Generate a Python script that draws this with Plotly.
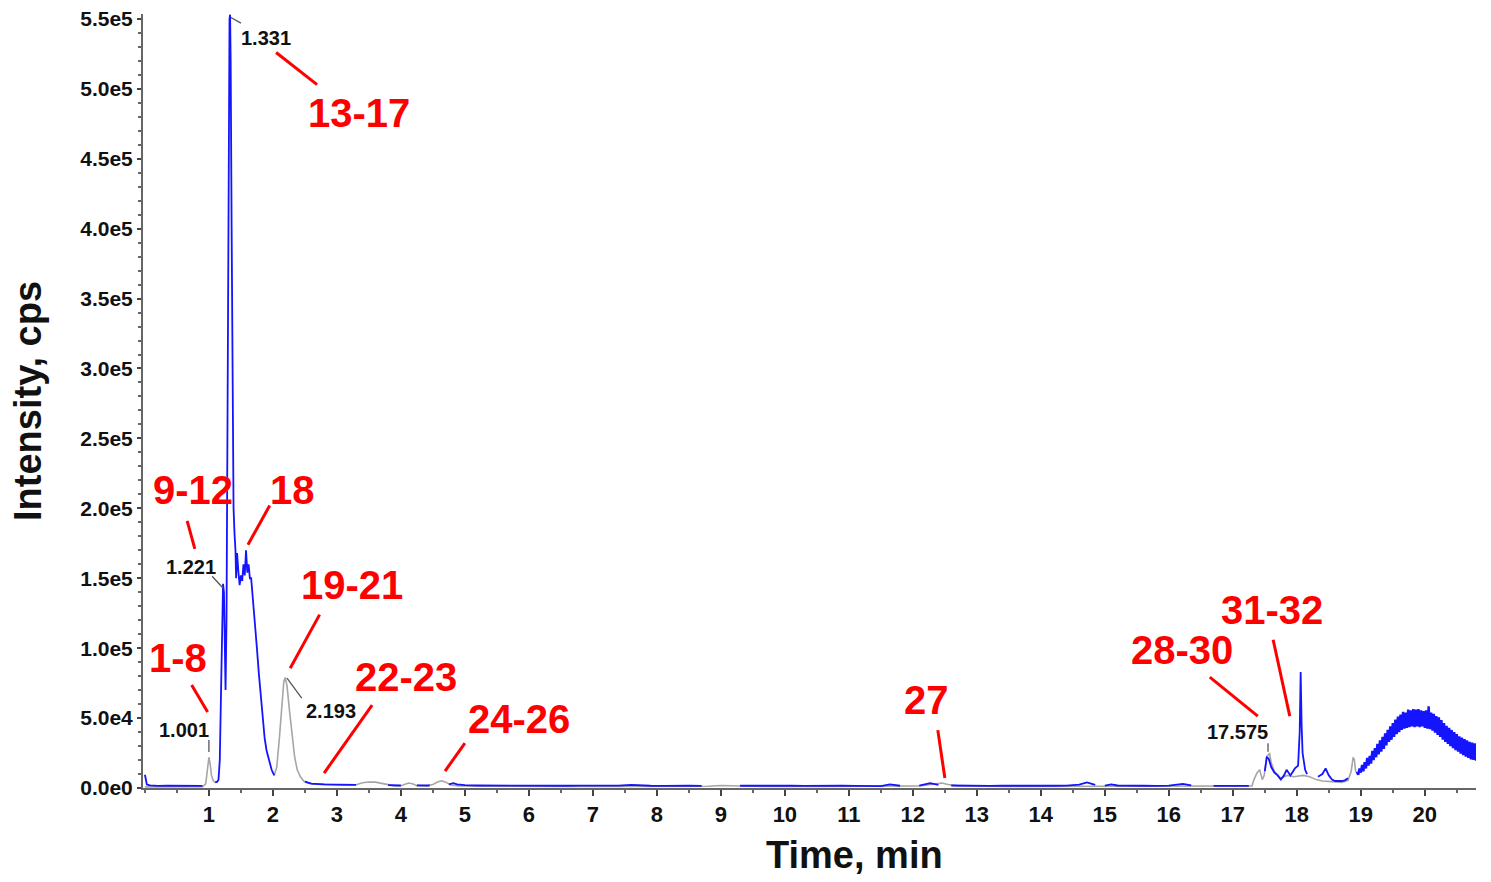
import plotly.graph_objects as go

# ---------------- data ----------------
# blue (main) trace: time (min), intensity (cps); None = gap where grey trace is shown
blue_t = [0.0, 0.015, 0.03, 0.08, 0.2, 0.35, 0.5, 0.65, 0.8, 0.9, None,
          1.1, 1.13, 1.15, 1.17, 1.19, 1.205, 1.221, 1.235, 1.25, 1.26, 1.275, 1.29, 1.31, 1.322, 1.331,
          1.34, 1.355, 1.37, 1.385, 1.4, 1.415, 1.425, 1.44, 1.46, 1.48, 1.5, 1.52, 1.54, 1.56, 1.58,
          1.6, 1.62, 1.64, 1.66, 1.68, 1.7, 1.72, 1.75, 1.78, 1.81, 1.84, 1.87, 1.9, 1.94, 1.98, 2.02, None,
          2.5, 2.6, 2.8, 3.0, 3.2, 3.3, None, 3.8, 3.9, 4.0, None, 4.25, 4.35, 4.45, None,
          4.75, 4.82, 4.88, 5.0, 5.2, 5.4, 5.6, 5.8, 6.0, 6.2, 6.4, 6.6, 6.8, 7.0, 7.2, 7.4, 7.6, 7.7,
          7.9, 8.1, 8.3, 8.5, 8.7, None, 9.3, 9.5, 9.7, 9.9, 10.1, 10.3, 10.5, 10.7, 10.9, 11.1, 11.3,
          11.5, 11.64, 11.8, None, 12.1, 12.27, 12.4, None, 12.6, 12.8, 13.0, 13.2, 13.4, 13.6, 13.8,
          14.0, 14.2, 14.4, 14.6, 14.72, 14.85, None, 15.0, 15.1, 15.2, 15.4, 15.6, 15.8, 16.0, 16.22,
          16.35, None, 16.7, 16.9, 17.1, 17.25, None,
          17.5, 17.53, 17.56, 17.6, 17.65, 17.7, 17.75, 17.8, 17.84, 17.9, 17.97, 18.02, 18.045,
          18.06, 18.075, 18.09, 18.13, 18.16, None, 18.33, 18.4, 18.45, 18.5, 18.55, 18.6, 18.7,
          18.75, 18.8, None]
blue_i = [9500, 6000, 2500, 1800, 1500, 1700, 1500, 1600, 1500, 1500, None,
          4000, 4500, 6000, 20000, 70000, 120000, 146000, 140000, 95000, 70000, 120000, 280000, 480000, 550000, 553000,
          520000, 400000, 280000, 200000, 182000, 170000, 150000, 168000, 155000, 145000, 152000, 148000, 160000, 152000, 170000,
          154000, 160000, 150000, 150000, 140000, 130000, 118000, 100000, 82000, 65000, 48000, 36000, 27000, 19000, 13000, 9000, None,
          4500, 3200, 2600, 2500, 2400, 2300, None, 2100, 1900, 1800, None, 1900, 2000, 1800, None,
          2600, 3400, 2600, 2000, 1800, 1700, 1900, 1700, 1600, 1800, 1700, 1600, 1700, 1600, 1500, 1700, 2300, 2000,
          1600, 1500, 1700, 1600, 1500, None, 1600, 1700, 1900, 1500, 1600, 1500, 1700, 1500, 1600, 1500, 1600,
          1400, 2600, 1600, None, 1700, 3500, 2200, None, 1800, 1600, 1700, 1500, 1600, 1500, 1600,
          1500, 1600, 1700, 2400, 4000, 2200, None, 1700, 2600, 1800, 1500, 1600, 1500, 1700, 3000,
          1800, None, 1500, 1600, 1500, 1500, None,
          12000, 22000, 21000, 15000, 11000, 9000, 6000, 9000, 13000, 9000, 14000, 16000, 40000,
          83000, 45000, 25000, 13000, 10000, None, 8000, 10000, 14000, 9000, 6000, 5000, 5000,
          5500, 7000, None]

# noisy hump at the end of the run (regular sampling from 18.94 min, step 0.02 min)
hump_t0 = 18.94
hump_step = 0.02
hump_i = [11500, 9500, 14000, 11000, 16500, 12000, 18500, 14000, 21500, 16000,
          23000, 17500, 26500, 20000, 28500, 22000, 31500, 24000, 34000, 26000,
          36500, 28000, 39000, 30500, 41500, 33000, 44000, 34500, 46500, 36500,
          49000, 38500, 51000, 40000, 52500, 41500, 54500, 42500, 54000, 43000,
          56000, 43500, 55500, 44000, 56500, 43500, 56000, 44000, 56500, 43500,
          55500, 44000, 55000, 43000, 55500, 42500, 58500, 42000, 54000, 41000,
          53000, 39500, 51500, 38000, 50500, 36500, 48500, 34500, 46500, 33000,
          44500, 31500, 43000, 30000, 41500, 28500, 40000, 27000, 38500, 26000,
          37000, 24500, 36000, 23500, 35000, 22500, 34000, 21500, 33000, 20500,
          32500, 20000, 32000, 19500, 31000]

# grey trace (other experiment)
gray_t = [0.0, 0.5, 0.9, 0.95, 0.98, 1.0, 1.02, 1.04, 1.07, 1.1, 1.13, None,
          2.02, 2.06, 2.1, 2.14, 2.17, 2.193, 2.22, 2.26, 2.3, 2.34, 2.38, 2.43, 2.48, 2.55, 2.65, 2.8,
          3.0, 3.2, 3.3, 3.4, 3.5, 3.6, 3.7, 3.8, 3.9, 4.0, 4.06, 4.12, 4.18, 4.25, 4.4, 4.5, 4.58,
          4.64, 4.7, 4.78, 4.9, 5.5, 6.5, 7.5, 8.5, 8.8, 9.0, 9.3, 9.5, 10.5, 11.5, 11.8, 12.0, 12.1,
          12.35, 12.45, 12.55, 12.7, 13.5, 14.5, 14.85, 15.0, 15.5, 16.35, 16.5, 16.7, 17.0, 17.25,
          17.3, 17.33, 17.38, 17.42, 17.46, 17.49, 17.53, 17.56, 17.575, 17.6, 17.65, 17.75, 17.85,
          17.95, 18.1, 18.2, 18.3, 18.4, 18.55, 18.7, 18.8, 18.85, 18.88, 18.9, 18.92, 18.95]
gray_i = [800, 800, 900, 3000, 15000, 22000, 17000, 9000, 5000, 4000, 4500, None,
          9000, 15000, 35000, 62000, 76000, 79000, 73000, 55000, 36000, 22000, 13000, 8000, 5000, 3500, 2800, 2400,
          2200, 2000, 2300, 3800, 4300, 4200, 3200, 2000, 1500, 1600, 2800, 3600, 3000, 1700, 1500, 2500, 4500,
          5200, 4200, 2200, 1500, 1200, 1100, 1100, 1200, 1300, 1800, 1300, 1200, 1100, 1200, 1300, 1600, 1500,
          2800, 3600, 2500, 1500, 1100, 1200, 1400, 1300, 1100, 1200, 1400, 1200, 1200, 1300,
          1500, 6000, 11000, 13000, 6000, 9000, 22000, 24000, 24500, 18000, 12000, 7000, 9000,
          8000, 9000, 8000, 6000, 5000, 4500, 4000, 5500, 12000, 22000, 20000, 12000, 10000]

# axis ticks
x_ticks = list(range(1, 21))
y_tickvals = [0, 50000, 100000, 150000, 200000, 250000, 300000, 350000, 400000, 450000, 500000, 550000]
y_ticktext = ["0.0e0", "5.0e4", "1.0e5", "1.5e5", "2.0e5", "2.5e5", "3.0e5", "3.5e5", "4.0e5", "4.5e5", "5.0e5", "5.5e5"]

# red compound-group labels: text, label centre (t, I), leader line start and end (t, I)
red_text = ["13-17", "9-12", "18", "1-8", "19-21", "22-23", "24-26", "27", "28-30", "31-32"]
red_pos = [(3.34, 483000), (0.75, 213000), (2.31, 213000), (0.52, 93000), (3.23, 145000),
           (4.08, 79300), (5.84, 49300), (12.22, 62900), (16.2, 98600), (17.61, 127000)]
red_line = [((2.05, 526000), (2.69, 503000)), ((0.66, 191000), (0.78, 171000)),
            ((1.95, 202000), (1.61, 174000)), ((0.73, 73600), (0.98, 54300)),
            ((2.73, 124000), (2.27, 85700)), ((3.55, 59300), (2.80, 10700)),
            ((5.0, 32100), (4.69, 12100)), ((12.39, 41400), (12.5, 7100)),
            ((16.64, 79300), (17.39, 51400)), ((17.63, 106000), (17.89, 51400))]

# black retention-time labels with grey leader lines
rt_text = ["1.331", "1.221", "1.001", "2.193", "17.575"]
rt_pos = [(1.89, 536000), (0.72, 158000), (0.61, 41400), (2.90, 55000), (17.07, 40000)]
rt_line = [((1.344, 551000), (1.5, 547000)), ((1.05, 151400), (1.22, 143000)),
           ((1.0, 34300), (1.0, 25700)), ((2.22, 78600), (2.45, 64300)),
           ((17.55, 32000), (17.55, 26000))]

# ---------------- figure ----------------
FONT = "Liberation Sans, Arial, sans-serif"
fig = go.Figure()

fig.add_trace(go.Scatter(x=gray_t, y=gray_i, mode="lines",
                         line=dict(color="#a6a6a6", width=1.6), connectgaps=False,
                         hoverinfo="skip", showlegend=False))
fig.add_trace(go.Scatter(x=blue_t, y=blue_i, mode="lines",
                         line=dict(color="#1414ff", width=1.8), connectgaps=False,
                         hoverinfo="skip", showlegend=False))
hump_t = [round(hump_t0 + k * hump_step, 3) for k in range(len(hump_i))]
fig.add_trace(go.Scatter(x=hump_t, y=hump_i, mode="lines",
                         line=dict(color="#1414ff", width=2.4),
                         hoverinfo="skip", showlegend=False))

annotations = []
shapes = []
for txt, (x, y), ((x0, y0), (x1, y1)) in zip(red_text, red_pos, red_line):
    annotations.append(dict(x=x, y=y, xref="x", yref="y", text=f"<b>{txt}</b>", showarrow=False,
                            font=dict(family=FONT, size=40, color="#ff0000"),
                            xanchor="center", yanchor="middle"))
    shapes.append(dict(type="line", xref="x", yref="y", x0=x0, y0=y0, x1=x1, y1=y1,
                       line=dict(color="#ff0000", width=3)))
for txt, (x, y), ((x0, y0), (x1, y1)) in zip(rt_text, rt_pos, rt_line):
    annotations.append(dict(x=x, y=y, xref="x", yref="y", text=f"<b>{txt}</b>", showarrow=False,
                            font=dict(family=FONT, size=20, color="#111111"),
                            xanchor="center", yanchor="middle"))
    shapes.append(dict(type="line", xref="x", yref="y", x0=x0, y0=y0, x1=x1, y1=y1,
                       line=dict(color="#555555", width=1.3)))

annotations.append(dict(x=-0.0863, y=0.5, xref="paper", yref="paper", text="<b>Intensity, cps</b>",
                        textangle=-90, showarrow=False, xanchor="center", yanchor="middle",
                        font=dict(family=FONT, size=38, color="#111111")))
annotations.append(dict(x=0.534, y=-0.0868, xref="paper", yref="paper", text="<b>Time, min</b>",
                        showarrow=False, xanchor="center", yanchor="middle",
                        font=dict(family=FONT, size=38, color="#111111")))

fig.update_layout(
    width=1491, height=882,
    margin=dict(l=135, r=23, t=6, b=102, autoexpand=False),
    paper_bgcolor="white", plot_bgcolor="white",
    annotations=annotations, shapes=shapes,
    xaxis=dict(range=[-0.03, 20.8], tickvals=x_ticks, ticktext=[str(v) for v in x_ticks],
               automargin=False, ticklabeloverflow="allow",
               showgrid=False, zeroline=False, showline=True, linecolor="#666666", linewidth=2,
               ticks="outside", ticklen=6, tickwidth=2, tickcolor="#444444",
               minor=dict(dtick=0.5, tick0=0, ticks="outside", ticklen=3, tickcolor="#666666"),
               tickfont=dict(family=FONT, size=22, color="#111111", weight="bold")),
    yaxis=dict(range=[0, 553500], tickvals=y_tickvals, ticktext=y_ticktext,
               automargin=False, ticklabeloverflow="allow",
               showgrid=False, zeroline=False, showline=True, linecolor="#666666", linewidth=2,
               ticks="outside", ticklen=4, tickwidth=2, tickcolor="#444444",
               minor=dict(dtick=10000, tick0=0, ticks="outside", ticklen=3, tickcolor="#666666"),
               tickfont=dict(family=FONT, size=21, color="#111111", weight="bold")),
)

fig.write_html("out.html")
